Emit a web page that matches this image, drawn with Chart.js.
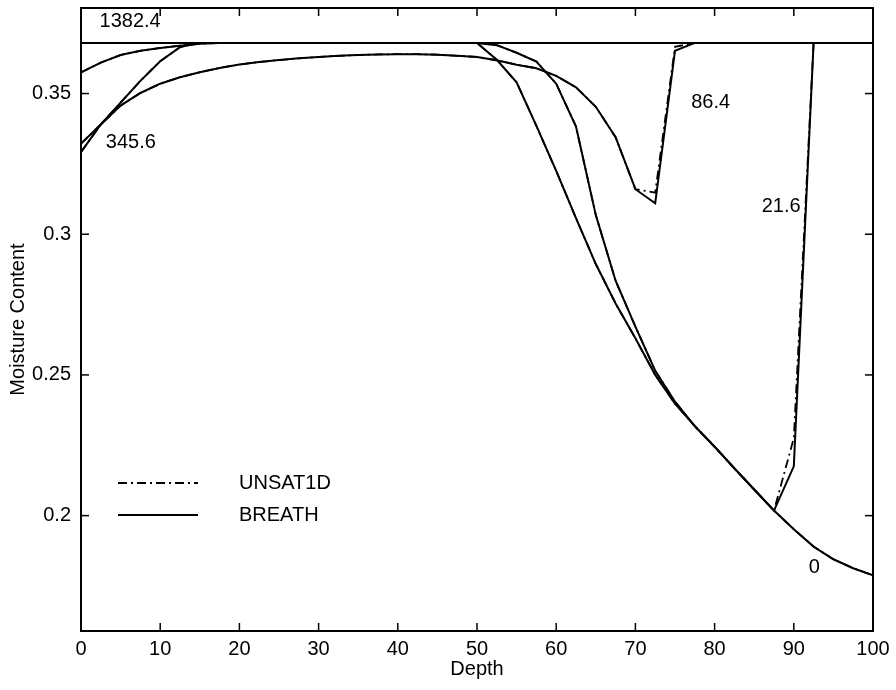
<!DOCTYPE html>
<html>
<head>
<meta charset="utf-8">
<script src="https://cdn.jsdelivr.net/npm/chart.js@4.4.1/dist/chart.umd.min.js"></script>
<style>
  html, body { margin: 0; padding: 0; background: #fff; }
  canvas { display: block; }
</style>
</head>
<body>
<canvas id="c" width="896" height="690"></canvas>
<script>
// ---------- data ----------
const depth = [0,2.5,5,7.5,10,12.5,15,17.5,20,22.5,25,27.5,30,32.5,35,37.5,40,42.5,45,47.5,
               50,52.5,55,57.5,60,62.5,65,67.5,70,72.5,75,77.5,80,82.5,85,87.5,90,92.5,95,97.5,100];

const breath_t0 = [0.368,0.368,0.368,0.368,0.368,0.368,0.368,0.368,0.368,0.368,0.368,0.368,0.368,0.368,0.368,0.368,0.368,0.368,0.368,0.368,
                   0.368,0.362,0.354,0.3385,0.3225,0.3057,0.2894,0.2754,0.2630,0.2500,0.2398,0.2318,0.2245,0.2168,0.2093,0.2018,0.1952,0.1890,0.1845,0.1813,0.1788];
const breath_t21 = [0.3575,0.3610,0.3637,0.3652,0.3662,0.3670,0.3677,0.368,0.368,0.368,0.368,0.368,0.368,0.368,0.368,0.368,0.368,0.368,0.368,0.368,
                    0.368,0.3672,0.3645,0.3614,0.3535,0.3383,0.3068,0.2835,0.2672,0.2515,0.2405,0.2318,0.2245,0.2168,0.2093,0.2018,0.2175,0.368,0.368,0.368,0.368];
const breath_t86 = [0.3292,0.3390,0.3457,0.3502,0.3535,0.3558,0.3576,0.3591,0.3603,0.3612,0.3619,0.3625,0.3630,0.3634,0.3637,0.3639,0.3640,0.3640,0.3638,0.3634,
                    0.3630,0.3618,0.3602,0.3590,0.3563,0.3522,0.3453,0.3345,0.3160,0.3110,0.3652,0.368,0.368,0.368,0.368,0.368,0.368,0.368,0.368,0.368,0.368];
const breath_t345 = [0.3322,0.3390,0.3468,0.3545,0.3615,0.3665,0.368,0.368,0.368,0.368,0.368,0.368,0.368,0.368,0.368,0.368,0.368,0.368,0.368,0.368,
                     0.368,0.368,0.368,0.368,0.368,0.368,0.368,0.368,0.368,0.368,0.368,0.368,0.368,0.368,0.368,0.368,0.368,0.368,0.368,0.368,0.368];
const breath_t1382 = [0.368,0.368,0.368,0.368,0.368,0.368,0.368,0.368,0.368,0.368,0.368,0.368,0.368,0.368,0.368,0.368,0.368,0.368,0.368,0.368,
                      0.368,0.368,0.368,0.368,0.368,0.368,0.368,0.368,0.368,0.368,0.368,0.368,0.368,0.368,0.368,0.368,0.368,0.368,0.368,0.368,0.368];

const unsat_t0 = [0.368,0.368,0.368,0.368,0.368,0.368,0.368,0.368,0.368,0.368,0.368,0.368,0.368,0.368,0.368,0.368,0.368,0.368,0.368,0.368,
                  0.368,0.362,0.354,0.3385,0.3225,0.3057,0.2894,0.2754,0.2630,0.2500,0.2398,0.2318,0.2245,0.2168,0.2093,0.2018,0.1952,0.1890,0.1845,0.1813,0.1788];
const unsat_t21 = [0.3575,0.3610,0.3637,0.3652,0.3662,0.3670,0.3677,0.368,0.368,0.368,0.368,0.368,0.368,0.368,0.368,0.368,0.368,0.368,0.368,0.368,
                   0.368,0.3672,0.3645,0.3614,0.3535,0.3383,0.3068,0.2835,0.2672,0.2515,0.2405,0.2318,0.2245,0.2168,0.2093,0.2018,0.2275,0.368,0.368,0.368,0.368];
const unsat_t86 = [0.3292,0.3390,0.3457,0.3502,0.3535,0.3558,0.3576,0.3591,0.3603,0.3612,0.3619,0.3625,0.3630,0.3634,0.3637,0.3639,0.3640,0.3640,0.3638,0.3634,
                   0.3630,0.3618,0.3602,0.3590,0.3563,0.3522,0.3453,0.3345,0.3160,0.3148,0.3666,0.368,0.368,0.368,0.368,0.368,0.368,0.368,0.368,0.368,0.368];
const unsat_t345 = [0.3322,0.3390,0.3468,0.3545,0.3615,0.3665,0.368,0.368,0.368,0.368,0.368,0.368,0.368,0.368,0.368,0.368,0.368,0.368,0.368,0.368,
                    0.368,0.368,0.368,0.368,0.368,0.368,0.368,0.368,0.368,0.368,0.368,0.368,0.368,0.368,0.368,0.368,0.368,0.368,0.368,0.368,0.368];
const unsat_t1382 = [0.368,0.368,0.368,0.368,0.368,0.368,0.368,0.368,0.368,0.368,0.368,0.368,0.368,0.368,0.368,0.368,0.368,0.368,0.368,0.368,
                     0.368,0.368,0.368,0.368,0.368,0.368,0.368,0.368,0.368,0.368,0.368,0.368,0.368,0.368,0.368,0.368,0.368,0.368,0.368,0.368,0.368];

const xTickValues = [0,10,20,30,40,50,60,70,80,90,100];
const yTickValues = [0.2,0.25,0.3,0.35];
const yTickLabels = ['0.2','0.25','0.3','0.35'];

// time labels placed at data coordinates (depth, moisture)
const timeLabels = ['1382.4','345.6','86.4','21.6','0'];
const timeLabelDepth = [6.2,6.3,79.5,88.4,92.6];
const timeLabelMoisture = [0.3756,0.3327,0.3469,0.3097,0.1816];

const legendNames = ['UNSAT1D','BREATH'];

// ---------- chart ----------
const FONT = '"Liberation Sans", Arial, Helvetica, sans-serif';
Chart.defaults.font.family = FONT;
Chart.defaults.color = '#000';

function pts(arr) { return depth.map((d, i) => ({x: d, y: arr[i]})); }

const unsatSeries = [unsat_t0, unsat_t21, unsat_t86, unsat_t345, unsat_t1382];
const breathSeries = [breath_t0, breath_t21, breath_t86, breath_t345, breath_t1382];
const DASHDOT = [9, 4, 2, 4];

const datasets = [];
unsatSeries.forEach((s, i) => datasets.push({
  label: legendNames[0] + ' ' + i, data: pts(s), borderColor: '#000', borderWidth: 1.8,
  borderDash: DASHDOT, pointRadius: 0, tension: 0, fill: false
}));
breathSeries.forEach((s, i) => datasets.push({
  label: legendNames[1] + ' ' + i, data: pts(s), borderColor: '#000', borderWidth: 2,
  pointRadius: 0, tension: 0, fill: false
}));

function line(ctx, x1, y1, x2, y2) { ctx.beginPath(); ctx.moveTo(x1, y1); ctx.lineTo(x2, y2); ctx.stroke(); }

const decorPlugin = {
  id: 'decor',
  afterDatasetsDraw(chart) {
    const {ctx, chartArea: a, scales} = chart;
    const xs = scales.x, ys = scales.y;
    ctx.save();
    ctx.strokeStyle = '#000';
    ctx.setLineDash([]);
    // frame
    ctx.lineWidth = 2;
    ctx.strokeRect(a.left, a.top, a.right - a.left, a.bottom - a.top);
    // inward ticks on four sides
    const tl = 8;
    ctx.lineWidth = 1.5;
    xTickValues.forEach(v => {
      const px = xs.getPixelForValue(v);
      line(ctx, px, a.bottom, px, a.bottom - tl);
      line(ctx, px, a.top, px, a.top + tl);
    });
    yTickValues.forEach(v => {
      const py = ys.getPixelForValue(v);
      line(ctx, a.left, py, a.left + tl, py);
      line(ctx, a.right, py, a.right - tl, py);
    });
    // time labels
    ctx.fillStyle = '#000';
    ctx.font = '20px ' + FONT;
    ctx.textAlign = 'center';
    ctx.textBaseline = 'middle';
    timeLabels.forEach((t, i) => {
      ctx.fillText(t, xs.getPixelForValue(timeLabelDepth[i]), ys.getPixelForValue(timeLabelMoisture[i]));
    });
    // legend
    const lx1 = a.left + 37, lx2 = a.left + 117, tx = a.left + 158;
    const ly = [483, 515];
    ctx.lineWidth = 1.8;
    ctx.setLineDash(DASHDOT);
    line(ctx, lx1, ly[0], lx2, ly[0]);
    ctx.setLineDash([]);
    ctx.lineWidth = 2;
    line(ctx, lx1, ly[1], lx2, ly[1]);
    ctx.textAlign = 'left';
    ctx.fillText(legendNames[0], tx, ly[0]);
    ctx.fillText(legendNames[1], tx, ly[1]);
    ctx.restore();
  }
};

new Chart(document.getElementById('c'), {
  type: 'line',
  data: { datasets },
  options: {
    responsive: false,
    animation: false,
    events: [],
    layout: { padding: { top: 8, right: 23, bottom: 0, left: 0 } },
    plugins: { legend: { display: false }, tooltip: { enabled: false } },
    scales: {
      x: {
        type: 'linear', min: 0, max: 100,
        afterBuildTicks: s => { s.ticks = xTickValues.map(v => ({value: v})); },
        afterFit: s => { s.height = 59; s.paddingLeft = 0; s.paddingRight = 0; },
        ticks: { font: { size: 20 }, color: '#000', padding: 6, maxRotation: 0, autoSkip: false },
        grid: { display: false, drawTicks: false },
        border: { display: false },
        title: { display: true, text: 'Depth', font: { size: 20 }, color: '#000', padding: { top: 0, bottom: 9 } }
      },
      y: {
        type: 'linear', min: 0.159, max: 0.3804,
        afterBuildTicks: s => { s.ticks = yTickValues.map(v => ({value: v})); },
        afterFit: s => { s.width = 81; s.paddingTop = 0; s.paddingBottom = 0; },
        ticks: { font: { size: 20 }, color: '#000', padding: 10,
                 callback: (v) => { const i = yTickValues.indexOf(v); return i >= 0 ? yTickLabels[i] : ''; } },
        grid: { display: false, drawTicks: false },
        border: { display: false },
        title: { display: true, text: 'Moisture Content', font: { size: 20 }, color: '#000', padding: { top: 6, bottom: 0 } }
      }
    }
  },
  plugins: [decorPlugin]
});
</script>
</body>
</html>
